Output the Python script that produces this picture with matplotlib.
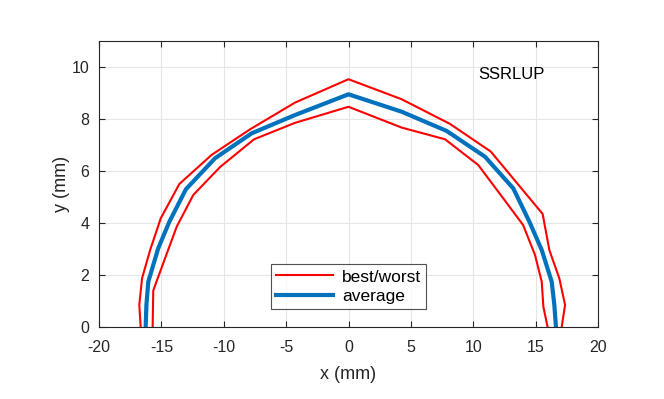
import matplotlib
matplotlib.use("Agg")
import matplotlib.pyplot as plt

plt.rcParams['font.family'] = ['Liberation Sans', 'DejaVu Sans']
plt.rcParams['axes.unicode_minus'] = False

outer_x = [-16.66, -16.77, -16.55, -15.90, -15.05, -13.56, -10.97, -7.90, -4.29, 0.0,
           4.26, 8.14, 11.40, 15.56, 16.10, 16.90, 17.36, 17.09]
outer_y = [0.0, 0.85, 1.87, 2.96, 4.18, 5.50, 6.62, 7.60, 8.63, 9.53,
           8.76, 7.81, 6.75, 4.35, 2.96, 1.87, 0.85, 0.0]

inner_x = [-15.70, -15.65, -15.35, -13.77, -12.44, -10.30, -7.57, -4.30, 0.0,
           4.26, 7.74, 10.40, 12.40, 14.00, 14.95, 15.49, 15.62, 15.96]
inner_y = [0.0, 1.40, 1.80, 3.86, 5.08, 6.15, 7.22, 7.85, 8.47,
           7.67, 7.22, 6.23, 4.95, 3.92, 2.77, 1.74, 0.78, 0.0]

avg_x = [-16.26, -16.20, -16.05, -15.25, -14.36, -13.03, -10.70, -7.76, -4.30, 0.0,
         4.26, 7.87, 10.94, 13.21, 14.50, 15.49, 16.29, 16.50, 16.63]
avg_y = [0.0, 0.85, 1.74, 3.03, 4.05, 5.30, 6.49, 7.45, 8.15, 8.95,
         8.28, 7.54, 6.55, 5.33, 4.05, 2.96, 1.74, 0.85, 0.0]

xticks = [-20, -15, -10, -5, 0, 5, 10, 15, 20]
yticks = [0, 2, 4, 6, 8, 10]

fig = plt.figure(figsize=(6.64, 3.99), dpi=100)
ax = fig.add_axes([99/664, 1-327/399, (598-99)/664, (327-41)/399])

red = '#ff0000'
blue = '#0072bd'
l1, = ax.plot(outer_x, outer_y, color=red, lw=1.5, label='best/worst')
ax.plot(inner_x, inner_y, color=red, lw=1.5)
l2, = ax.plot(avg_x, avg_y, color=blue, lw=3, label='average')

ax.set_xlim(-20, 20)
ax.set_ylim(0, 11)
ax.set_xticks(xticks)
ax.set_yticks(yticks)
ax.grid(True, color='#e6e6e6', lw=0.8)
ax.set_axisbelow(True)
ax.tick_params(direction='in', length=4, labelsize=11.5, colors='#262626', top=True, right=True,
               labeltop=False, labelright=False)
ax.tick_params(axis='x', pad=9)
ax.tick_params(axis='y', pad=7)
for s in ax.spines.values():
    s.set_color('#262626')
    s.set_linewidth(0.8)

ax.set_xlabel('x (mm)', fontsize=13, color='#262626', labelpad=8)
ax.set_ylabel('y (mm)', fontsize=13, color='#262626', labelpad=1)

ax.text(13.1, 9.7, 'SSRLUP', fontsize=12, ha='center', va='center', color='black')

leg = ax.legend(handles=[l1, l2], loc='center', bbox_to_anchor=(0.5, 0.141),
                fontsize=12.5, frameon=True, fancybox=False, edgecolor='#262626',
                handlelength=3.3, borderpad=0.3, labelspacing=0.25, handletextpad=0.5)
leg.get_frame().set_linewidth(0.8)

fig.savefig('out.png', dpi=100)
